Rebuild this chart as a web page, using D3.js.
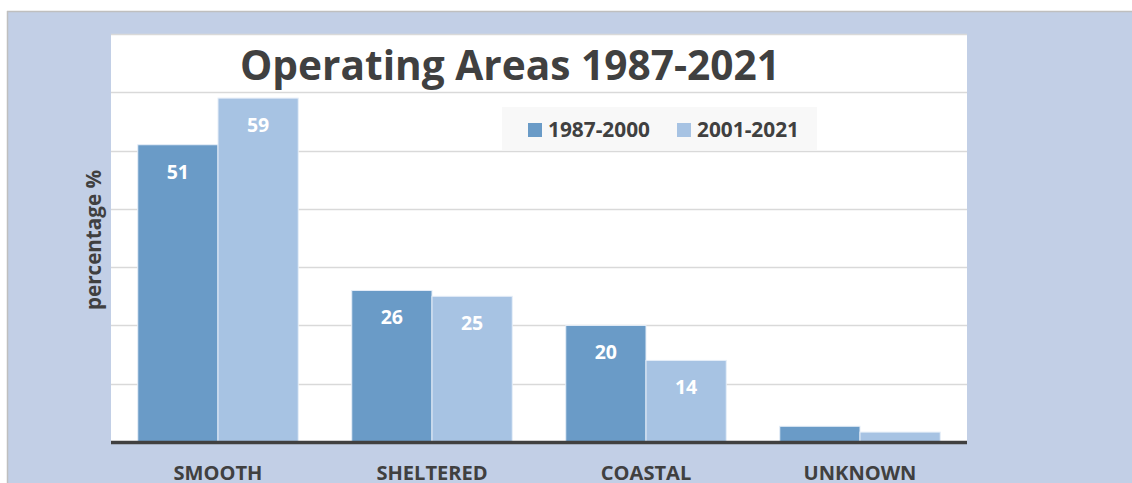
<!DOCTYPE html>
<html><head><meta charset="utf-8">
<script src="https://cdn.jsdelivr.net/npm/d3@7"></script>
<style>body{margin:0;background:#fff;} svg{display:block;}</style>
</head><body>
<script>
const categories = ["SMOOTH", "SHELTERED", "COASTAL", "UNKNOWN"];
const seriesNames = ["1987-2000", "2001-2021"];
const values1987 = [51, 26, 20, 2.7];
const values2001 = [59, 25, 14, 1.7];
const labels1987 = ["51", "26", "20", ""];
const labels2001 = ["59", "25", "14", ""];
const yTicks = [0, 10, 20, 30, 40, 50, 60, 70];
const titleText = "Operating Areas 1987-2021";
const yTitle = "percentage %";

const W = 1132, H = 483;
const colors = ["#6a9bc7", "#a7c3e3"];
const font = "'Open Sans', sans-serif";
const svg = d3.select("body").append("svg").attr("width", W).attr("height", H);

function fitWidth(sel, target) {
  const node = sel.node();
  const fs = parseFloat(sel.attr("font-size"));
  const w = node.getComputedTextLength();
  if (w > 0) sel.attr("font-size", (fs * target / w).toFixed(2));
}

// outer background
svg.append("rect").attr("x", 7).attr("y", 11).attr("width", W - 7).attr("height", H - 11).attr("fill", "#c2cfe6");
svg.append("line").attr("x1", 7).attr("x2", W).attr("y1", 11.5).attr("y2", 11.5).attr("stroke", "#bfbfbf").attr("stroke-width", 1.5);
svg.append("line").attr("x1", 7.5).attr("x2", 7.5).attr("y1", 11).attr("y2", H).attr("stroke", "#bfbfbf").attr("stroke-width", 1.5);

const plot = {left: 111, right: 967, top: 34, bottom: 442};
svg.append("rect").attr("x", plot.left).attr("y", plot.top).attr("width", plot.right - plot.left).attr("height", plot.bottom - plot.top).attr("fill", "#ffffff");

const x = d3.scaleBand().domain(categories).range([plot.left, plot.right]).paddingInner(0.25).paddingOuter(0.125);
const xs = d3.scaleBand().domain(seriesNames).range([0, x.bandwidth()]).padding(0);
const y = d3.scaleLinear().domain([0, 70]).range([plot.bottom, plot.top]);

// gridlines
svg.append("g").selectAll("line").data(yTicks.filter(d => d > 0)).join("line")
  .attr("x1", plot.left).attr("x2", plot.right)
  .attr("y1", d => Math.round(y(d)) + 0.5).attr("y2", d => Math.round(y(d)) + 0.5)
  .attr("stroke", "#d9d9d9").attr("stroke-width", 1.5);

// bars
const data = categories.map((c, i) => ({cat: c, vals: [
  {s: seriesNames[0], v: values1987[i], lab: labels1987[i], ci: 0},
  {s: seriesNames[1], v: values2001[i], lab: labels2001[i], ci: 1}
]}));
const groups = svg.append("g").selectAll("g").data(data).join("g")
  .attr("transform", d => `translate(${x(d.cat)},0)`);
groups.selectAll("rect").data(d => d.vals).join("rect")
  .attr("x", d => xs(d.s)).attr("width", xs.bandwidth())
  .attr("y", d => y(d.v)).attr("height", d => y(0) - y(d.v))
  .attr("fill", d => colors[d.ci]).attr("stroke", "#e6eef8").attr("stroke-width", 1);
groups.selectAll("text").data(d => d.vals).join("text")
  .attr("x", d => xs(d.s) + xs.bandwidth() / 2).attr("y", d => y(d.v) + 34)
  .attr("text-anchor", "middle").attr("fill", "#ffffff").attr("font-family", font)
  .attr("font-weight", "bold").attr("font-size", 19.5).text(d => d.lab);

// baseline axis
svg.append("line").attr("x1", plot.left).attr("x2", plot.right).attr("y1", plot.bottom + 0.5).attr("y2", plot.bottom + 0.5)
  .attr("stroke", "#404040").attr("stroke-width", 3.5);

// x labels
const xAxis = d3.axisBottom(x).tickSize(0).tickPadding(0);
const gx = svg.append("g").attr("transform", `translate(0,${plot.bottom})`).call(xAxis);
gx.select(".domain").remove();
gx.selectAll("text").attr("y", 37.5).attr("dy", 0).attr("fill", "#404040").attr("font-family", font)
  .attr("font-weight", "bold").attr("font-size", 18);
const sm = gx.select("text");
fitWidth(sm, 89);
const xfs = sm.attr("font-size");
gx.selectAll("text").attr("font-size", xfs);

// y title
const yt = svg.append("text").attr("transform", `translate(101,${240}) rotate(-90)`)
  .attr("text-anchor", "middle").attr("fill", "#404040").attr("font-family", font)
  .attr("font-weight", "bold").attr("font-size", 18).text(yTitle);
fitWidth(yt, 140);

// title
const tt = svg.append("text").attr("x", 510).attr("y", 80).attr("text-anchor", "middle")
  .attr("fill", "#404040").attr("font-family", font).attr("font-weight", "bold").attr("font-size", 40).text(titleText);
fitWidth(tt, 540);

// legend
const lg = svg.append("g");
lg.append("rect").attr("x", 502).attr("y", 107).attr("width", 315).attr("height", 43).attr("fill", "#f8f8f8");
const legItems = lg.selectAll("g").data(seriesNames).join("g")
  .attr("transform", (d, i) => `translate(${528 + i * 149},123)`);
legItems.append("rect").attr("width", 14).attr("height", 14).attr("fill", (d, i) => colors[i]);
const lt = legItems.append("text").attr("x", 20).attr("y", 13.5).attr("fill", "#404040").attr("font-family", font)
  .attr("font-weight", "bold").attr("font-size", 18).text(d => d);
fitWidth(d3.select(lt.node()), 102);
lt.attr("font-size", d3.select(lt.node()).attr("font-size"));
</script>
</body></html>
